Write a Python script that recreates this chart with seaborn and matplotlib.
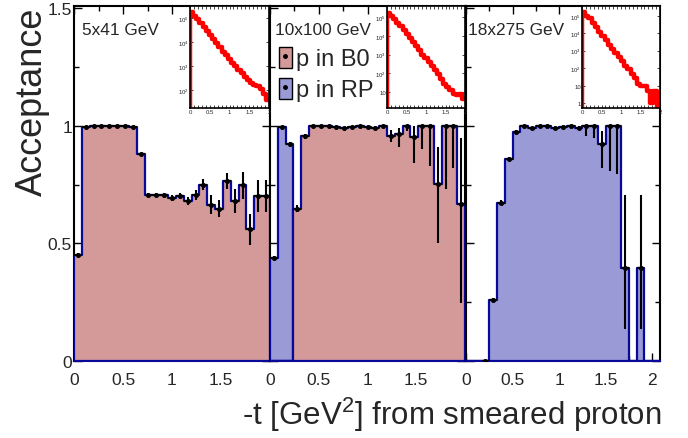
import numpy as np
import pandas as pd
import matplotlib
matplotlib.use("Agg")
import matplotlib.pyplot as plt
import seaborn as sns
from matplotlib.patches import Patch
from matplotlib.lines import Line2D
from matplotlib.legend_handler import HandlerTuple
from matplotlib.ticker import MultipleLocator, FuncFormatter, LogLocator, NullLocator

sns.set_style("ticks")
plt.rcParams["font.family"] = ["Liberation Sans", "DejaVu Sans"]
plt.rcParams["mathtext.fontset"] = "custom"
plt.rcParams["mathtext.rm"] = "Liberation Sans"
plt.rcParams["mathtext.it"] = "Liberation Sans:italic"

# ---------------- data ----------------
beam_labels = ["5x41 GeV", "10x100 GeV", "18x275 GeV"]
t_max = [2.0, 2.0, 2.0833]          # upper edge of the 25 -t bins
n_bins = 25
nan = np.nan

acc_5x41 = [0.452, 0.995, 1.0, 1.0, 1.0, 1.0, 1.0, 0.996, 0.880, 0.705, 0.705, 0.705, 0.692,
            0.700, 0.680, 0.706, 0.750, 0.664, 0.648, 0.766, 0.681, 0.748, 0.560, 0.702, 0.702]
errlo_5x41 = [0.006, 0.003, 0.002, 0.002, 0.002, 0.002, 0.002, 0.003, 0.006, 0.008, 0.009, 0.010, 0.012,
              0.013, 0.018, 0.020, 0.023, 0.040, 0.035, 0.035, 0.050, 0.058, 0.067, 0.070, 0.070]
errhi_5x41 = errlo_5x41
det_5x41 = ["B0"] * 25

acc_10x100 = [0.440, 0.997, 0.922, 0.648, 0.955, 1.0, 1.0, 1.0, 0.995, 0.990, 0.995, 1.0, 0.995,
              0.993, 1.0, 0.957, 0.964, 1.0, 0.953, 1.0, 1.0, 0.752, 1.0, 1.0, 0.667]
errlo_10x100 = [0.006, 0.004, 0.010, 0.015, 0.010, 0.003, 0.003, 0.003, 0.004, 0.005, 0.005, 0.004, 0.005,
                0.006, 0.006, 0.027, 0.053, 0.020, 0.110, 0.100, 0.170, 0.250, 0.270, 0.180, 0.420]
errhi_10x100 = [0.006, 0.003, 0.010, 0.015, 0.010, 0.0, 0.0, 0.0, 0.004, 0.005, 0.005, 0.0, 0.005,
                0.006, 0.0, 0.027, 0.028, 0.0, 0.047, 0.0, 0.0, 0.160, 0.0, 0.0, 0.280]
det_10x100 = ["RP"] * 3 + ["B0"] * 22

acc_18x275 = [nan, nan, 0.0, 0.258, 0.674, 0.858, 0.976, 1.0, 0.989, 1.0, 1.0, 0.989, 0.997,
              1.0, 0.990, 1.0, 1.0, 0.922, 1.0, 1.0, 0.397, nan, 0.397, nan, nan]
errlo_18x275 = [nan, nan, 0.0, 0.008, 0.010, 0.008, 0.005, 0.003, 0.005, 0.003, 0.004, 0.005, 0.005,
                0.006, 0.008, 0.043, 0.050, 0.100, 0.190, 0.205, 0.260, nan, 0.260, nan, nan]
errhi_18x275 = [nan, nan, 0.0, 0.008, 0.010, 0.008, 0.005, 0.0, 0.005, 0.0, 0.0, 0.005, 0.003,
                0.0, 0.008, 0.0, 0.0, 0.057, 0.0, 0.0, 0.310, nan, 0.310, nan, nan]
det_18x275 = ["RP"] * 25

# generated -t spectra (inset, counts per bin)
counts_5x41 = [174000, 126000, 89000, 60000, 42000, 28000, 19000, 13200, 8900, 6000, 4000, 2800, 2000,
               1400, 1000, 710, 500, 355, 250, 190, 166, 141, 112, 71, 40]
counts_10x100 = [166000, 112000, 83000, 46000, 32000, 21000, 12600, 7900, 4800, 2900, 1660, 1000, 630,
                 380, 234, 145, 89, 50, 27, 18, 13, 8, 7, 8, 4]
counts_18x275 = [158000, 100000, 71000, 38000, 22000, 12600, 7100, 4000, 2240, 1260, 710, 417, 240,
                 132, 85, 48, 28, 13, 9, 9, 5, 1, 5, 0, 0]

legend_labels = ["p in B0", "p in RP"]
x_label = "-t [GeV$^{2}$] from smeared proton"
y_label = "Acceptance"

acc_all = [acc_5x41, acc_10x100, acc_18x275]
lo_all = [errlo_5x41, errlo_10x100, errlo_18x275]
hi_all = [errhi_5x41, errhi_10x100, errhi_18x275]
det_all = [det_5x41, det_10x100, det_18x275]
cnt_all = [counts_5x41, counts_10x100, counts_18x275]

# ---------------- style ----------------
red_fill = "#D49A9A"
blue_fill = "#9A9AD6"
edge_col = "#08089A"
fill_of = {"B0": red_fill, "RP": blue_fill}

W, H = 688, 439
fig = plt.figure(figsize=(W / 100, H / 100), dpi=100)


def frac(x0, y0, x1, y1):
    return [x0 / W, 1 - y1 / H, (x1 - x0) / W, (y1 - y0) / H]


panel_px = [(74, 7, 270, 362), (270, 7, 465, 362), (466, 7, 660, 362)]
inset_px = [(190, 7, 269, 109), (387, 7, 465, 109), (582, 7, 660, 109)]
inset_ylim = [(17.8, 3.2e5), (1.4, 3.9e5), (0.51, 3.7e5)]
text_pos = [(0.04, 0.935), (0.028, 0.935), (0.01, 0.935)]


def logfmt(v, p):
    e = int(round(np.log10(v)))
    if e == 0:
        return "1"
    if e == 1:
        return "10"
    return "10$^{%d}$" % e


axes = []
for i in range(3):
    ax = fig.add_axes(frac(*panel_px[i]))
    axes.append(ax)
    edges = np.linspace(0, t_max[i], n_bins + 1)
    centers = 0.5 * (edges[:-1] + edges[1:])
    half = 0.5 * (edges[1] - edges[0])
    df = pd.DataFrame({"t": centers, "acc": acc_all[i], "lo": lo_all[i], "hi": hi_all[i],
                       "det": det_all[i]})
    for det in ["RP", "B0"]:
        sub = pd.DataFrame({"t": centers,
                            "w": np.where(df["det"] == det, df["acc"].fillna(0.0), 0.0)})
        if sub["w"].sum() == 0:
            continue
        sns.histplot(data=sub, x="t", weights="w", bins=n_bins, binrange=(0, t_max[i]),
                     element="step", fill=True, facecolor=fill_of[det], edgecolor=edge_col,
                     linewidth=1.6, ax=ax, zorder=2.6)
    ax.errorbar(df["t"], df["acc"], xerr=half, yerr=[df["lo"], df["hi"]], fmt="o",
                color="black", ms=2.6, elinewidth=1.5, capsize=0, zorder=4)
    ax.set_xlim(0, t_max[i])
    ax.set_ylim(0, 1.51)
    ax.set_xlabel("")
    ax.set_ylabel("")
    ax.xaxis.set_major_locator(MultipleLocator(0.5))
    ax.xaxis.set_minor_locator(MultipleLocator(0.25))
    ax.yaxis.set_major_locator(MultipleLocator(0.5))
    ax.yaxis.set_minor_locator(MultipleLocator(0.25))
    last = i == 2
    ax.xaxis.set_major_formatter(FuncFormatter(
        lambda v, p, last=last: ("" if (v > 1.99 and not last) else f"{v:g}")))
    ax.yaxis.set_major_formatter(FuncFormatter(lambda v, p: f"{v:g}"))
    ax.tick_params(which="both", direction="in", top=True, right=True,
                   labelsize=12.5, width=1.0, color="black")
    ax.tick_params(which="major", length=6)
    ax.tick_params(which="minor", length=3.5)
    ax.tick_params(axis="x", pad=8)
    ax.tick_params(axis="y", pad=1.5)
    if i > 0:
        ax.tick_params(axis="y", labelleft=False)
    for s in ax.spines.values():
        s.set_linewidth(1.5)
        s.set_color("black")
    ax.text(*text_pos[i], beam_labels[i], transform=ax.transAxes, fontsize=12.4,
            ha="left", va="center", zorder=6)

    # inset with the -t spectrum
    axin = fig.add_axes(frac(*inset_px[i]))
    axin.set_zorder(5)
    axin.set_facecolor("white")
    sin = pd.DataFrame({"t": centers, "n": cnt_all[i]})
    sns.histplot(data=sin, x="t", weights="n", bins=n_bins, binrange=(0, t_max[i]),
                 element="step", fill=False, color="#FF0000", linewidth=3.2, ax=axin)
    axin.set_yscale("log")
    axin.set_ylim(*inset_ylim[i])
    axin.plot([edges[0], edges[0]], [inset_ylim[i][0], cnt_all[i][0]], color="#FF0000",
              linewidth=3.2)
    axin.set_xlim(0, 2)
    axin.set_xlabel("")
    axin.set_ylabel("")
    axin.xaxis.set_major_locator(MultipleLocator(0.5))
    axin.xaxis.set_minor_locator(MultipleLocator(0.1))
    axin.xaxis.set_major_formatter(FuncFormatter(lambda v, p: f"{v:g}"))
    axin.yaxis.set_major_locator(LogLocator(base=10))
    axin.yaxis.set_minor_locator(NullLocator())
    axin.yaxis.set_major_formatter(FuncFormatter(logfmt))
    axin.tick_params(which="both", direction="in", top=True, right=True, labelsize=4.3,
                     length=2.5, width=0.6, pad=0.8)
    for s in axin.spines.values():
        s.set_linewidth(1.2)
        s.set_color("black")

# legend in middle panel
handles = [(Patch(facecolor=fill_of[d], edgecolor="black", linewidth=1.0),
            Line2D([], [], marker="o", color="black", ms=2.5, ls="none")) for d in ["B0", "RP"]]
axes[1].legend(handles, legend_labels, loc="upper left", bbox_to_anchor=(0.045, 0.885),
               frameon=False, fontsize=17, handlelength=0.55, handleheight=1.0,
               handletextpad=0.2, labelspacing=0.3, borderpad=0, borderaxespad=0,
               handler_map={tuple: HandlerTuple(ndivide=1)})

fig.text(0.047, 0.982, y_label, rotation=90, ha="center", va="top", fontsize=26)
fig.text(0.962, 0.055, x_label, ha="right", va="center", fontsize=22.5)

fig.savefig("out.png", dpi=100)
